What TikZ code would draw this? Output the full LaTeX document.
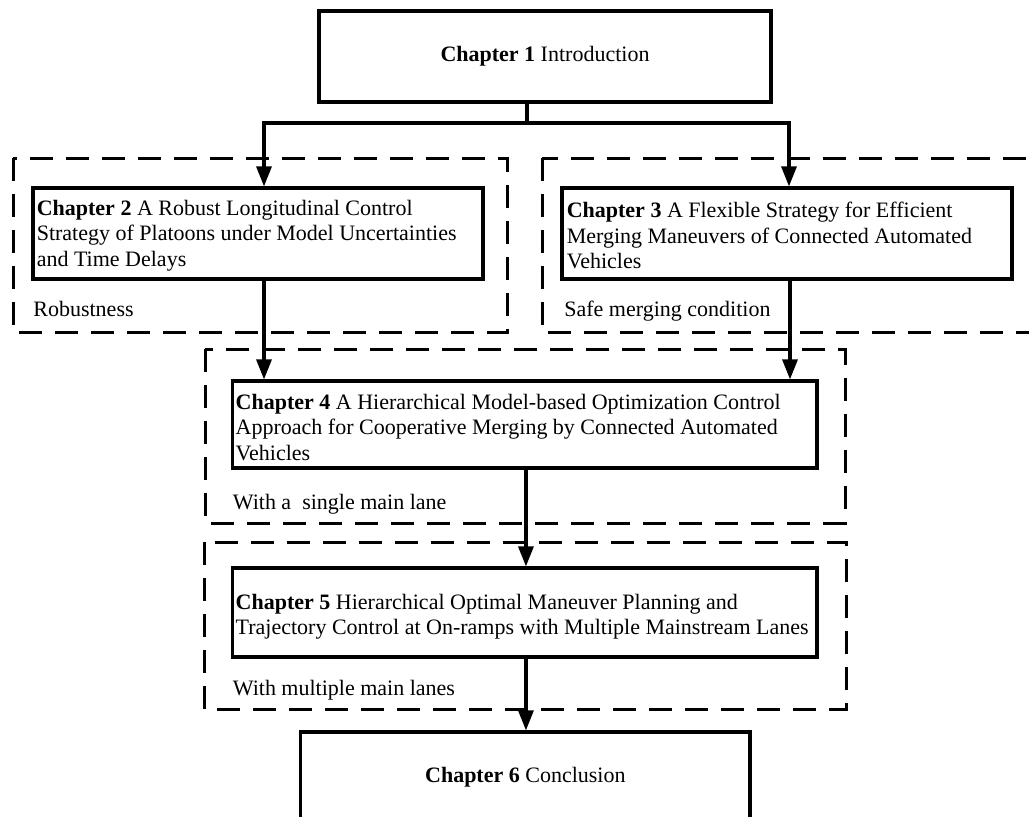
\documentclass[tikz,border=0pt]{standalone}
\usepackage{fontspec}
\setmainfont{Liberation Serif}
\usetikzlibrary{arrows.meta}
\newcommand\chfont{\fontsize{11}{12.75}\selectfont}
\begin{document}
\begin{tikzpicture}[x=0.5pt,y=-0.5pt,
  chapbox/.style={draw,line width=1.6pt,rectangle,inner sep=0pt,font=\chfont},
  chaptext/.style={anchor=west,align=left,inner sep=0pt,font=\chfont},
  grouplabel/.style={anchor=base west,inner sep=0pt,font=\chfont},
  groupframe/.style={draw,line width=1.5pt,dash pattern=on 11.5pt off 6.5pt},
  arr/.style={line width=1.6pt,-{Triangle[length=10pt,width=7.5pt]}},
  link/.style={line width=1.6pt}]
\useasboundingbox (0,0) rectangle (1029,816);
\clip (0,0) rectangle (1029,816);

% dashed group frames
\draw[groupframe] (13,158) rectangle (507,332);
\draw[groupframe] (542,158) rectangle (1060,332);
\draw[groupframe] (205,349) rectangle (845,523);
\draw[groupframe] (204,542) rectangle (846,709);

% chapter boxes
\node[chapbox,minimum width=226pt,minimum height=45.5pt] (c1) at (545,56.5)
  {\textbf{Chapter 1} Introduction};
\node[chapbox,minimum width=225pt,minimum height=45.5pt] (c2) at (258,233.5) {};
\node[chapbox,minimum width=225pt,minimum height=45.5pt] (c3) at (787,233.5) {};
\node[chapbox,minimum width=292.25pt,minimum height=43.5pt] (c4) at (524.75,424.5) {};
\node[chapbox,minimum width=292.25pt,minimum height=44.5pt] (c5) at (524.75,612.5) {};
\node[chapbox,minimum width=224.65pt,minimum height=45.5pt] (c6) at (525.35,777.5)
  {\textbf{Chapter 6} Conclusion};

% chapter titles
\node[chaptext] (c2t) at ([xshift=2.5pt,yshift=-1pt]c2.west)
  {\textbf{Chapter 2} A Robust Longitudinal Control\\Strategy of Platoons under Model Uncertainties\\and Time Delays};
\node[chaptext] (c3t) at ([xshift=3pt,yshift=-1pt]c3.west)
  {\textbf{Chapter 3} A Flexible Strategy for Efficient\\Merging Maneuvers of Connected Automated\\Vehicles};
\node[chaptext] (c4t) at ([xshift=2.2pt,yshift=-1.5pt]c4.west)
  {\textbf{Chapter 4} A Hierarchical Model-based Optimization Control\\Approach for Cooperative Merging by Connected Automated\\Vehicles};
\node[chaptext] (c5t) at ([xshift=2.2pt,yshift=-2pt]c5.west)
  {\textbf{Chapter 5} Hierarchical Optimal Maneuver Planning and\\Trajectory Control at On-ramps with Multiple Mainstream Lanes};

% group labels
\node[grouplabel] (g1) at (33,316) {Robustness};
\node[grouplabel] (g2) at (564,316) {Safe merging condition};
\node[grouplabel] (g3) at (232.5,509) {With a~ single main lane};
\node[grouplabel] (g4) at (232.5,695) {With multiple main lanes};

% connectors
\coordinate (split) at (527,123);
\draw[link] (c1.south -| split) -- (split);
\draw[arr] (split) -| ([xshift=3pt]c2.north);
\draw[arr] (split) -| ([xshift=1pt]c3.north);
\draw[arr] ([xshift=3pt]c2.south) -- ([xshift=3pt]c2.south |- c4.north);
\draw[arr] ([xshift=1.5pt]c3.south) -- ([xshift=1.5pt]c3.south |- c4.north);
\draw[arr] ([xshift=0.6pt]c4.south) -- ([xshift=0.6pt]c4.south |- c5.north);
\draw[arr] ([xshift=0.6pt]c5.south) -- ([xshift=0.6pt]c5.south |- c6.north);
\end{tikzpicture}
\end{document}
